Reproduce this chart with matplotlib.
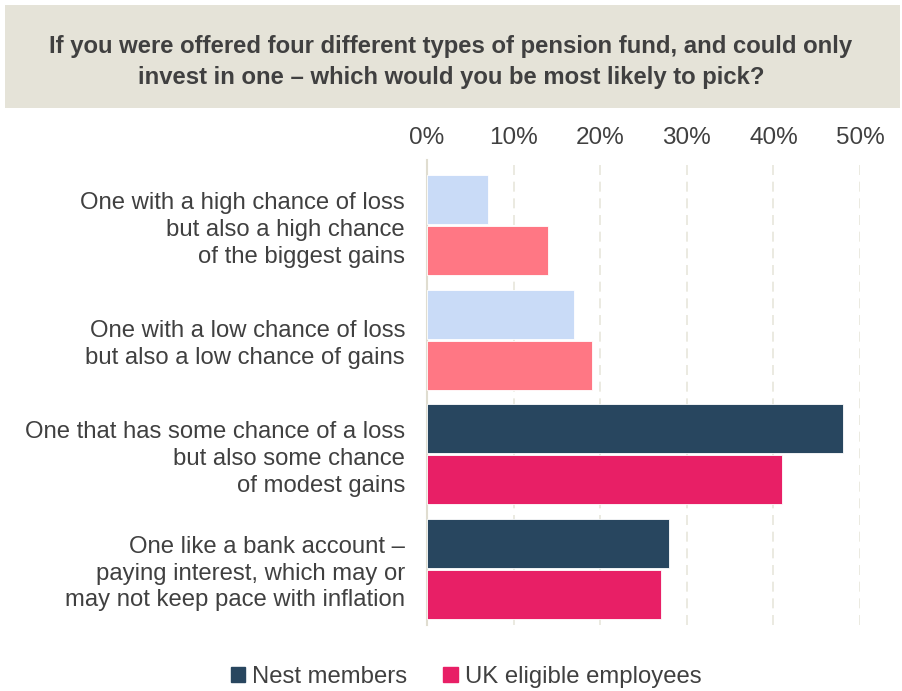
import matplotlib.pyplot as plt
import matplotlib.patches as mpatches
import numpy as np

plt.rcParams['font.family'] = ['Liberation Sans', 'DejaVu Sans']

# Answer options (top to bottom)
categories = [
    'One with a high chance of loss\nbut also a high chance\nof the biggest gains',
    'One with a low chance of loss\nbut also a low chance of gains',
    'One that has some chance of a loss\nbut also some chance\nof modest gains',
    'One like a bank account \u2013\npaying interest, which may or\nmay not keep pace with inflation',
]
nest = [7, 17, 48, 28]
uk = [14, 19, 41, 27]

# first two options are drawn in lighter shades
nest_colors = ['#c9dbf7', '#c9dbf7', '#28465f', '#28465f']
uk_colors = ['#ff7784', '#ff7784', '#e81f66', '#e81f66']

text_col = '#404040'

fig = plt.figure(figsize=(9.02, 6.91), dpi=100)

# title box
fig.patches.append(mpatches.Rectangle((5 / 902, 1 - 108 / 691), 895 / 902, 103 / 691,
                                      transform=fig.transFigure, facecolor='#e5e3d8',
                                      edgecolor='none', zorder=0))
fig.text(0.5, 1 - 62 / 691,
         'If you were offered four different types of pension fund, and could only\n'
         'invest in one \u2013 which would you be most likely to pick?',
         ha='center', va='center', fontsize=17.2, fontweight='bold', color=text_col,
         linespacing=1.4)

ax = fig.add_axes([427 / 902, 1 - 625 / 691, 433 / 902, 465 / 691])

y = np.arange(len(categories))
h = 0.427
ax.barh(y - 0.222, nest, height=h, color=nest_colors, edgecolor='white', linewidth=0.6, zorder=3)
ax.barh(y + 0.222, uk, height=h, color=uk_colors, edgecolor='white', linewidth=0.6, zorder=3)

ax.set_xlim(0, 50)
ax.set_ylim(3.49, -0.567)
ax.set_xticks(range(0, 51, 10))
ax.set_xticklabels([f'{v}%' for v in range(0, 51, 10)])
ax.xaxis.tick_top()
ax.tick_params(axis='x', length=0, labelsize=17.5, labelcolor=text_col, pad=8)
ax.set_yticks(y)
ax.set_yticklabels(categories, ha='right', multialignment='right')
ax.tick_params(axis='y', length=0, labelsize=17.2, labelcolor=text_col, pad=15.8)
for lbl in ax.get_yticklabels():
    lbl.set_linespacing(1.28)

ax.grid(axis='x', color='#e8e6dc', linestyle=(0, (6, 4)), linewidth=1.2, zorder=0)
for s in ['top', 'right', 'bottom']:
    ax.spines[s].set_visible(False)
ax.spines['left'].set_color('#e0ddd0')
ax.spines['left'].set_linewidth(1.5)

handles = [mpatches.Patch(color='#28465f', label='Nest members'),
           mpatches.Patch(color='#e81f66', label='UK eligible employees')]
fig.legend(handles=handles, loc='center', bbox_to_anchor=(466 / 902, 1 - 677 / 691),
           ncol=2, frameon=False, fontsize=17.2, handlelength=0.6, handleheight=0.6,
           handletextpad=0.3, columnspacing=1.5, labelcolor=text_col)

fig.savefig('out.png', dpi=100)
